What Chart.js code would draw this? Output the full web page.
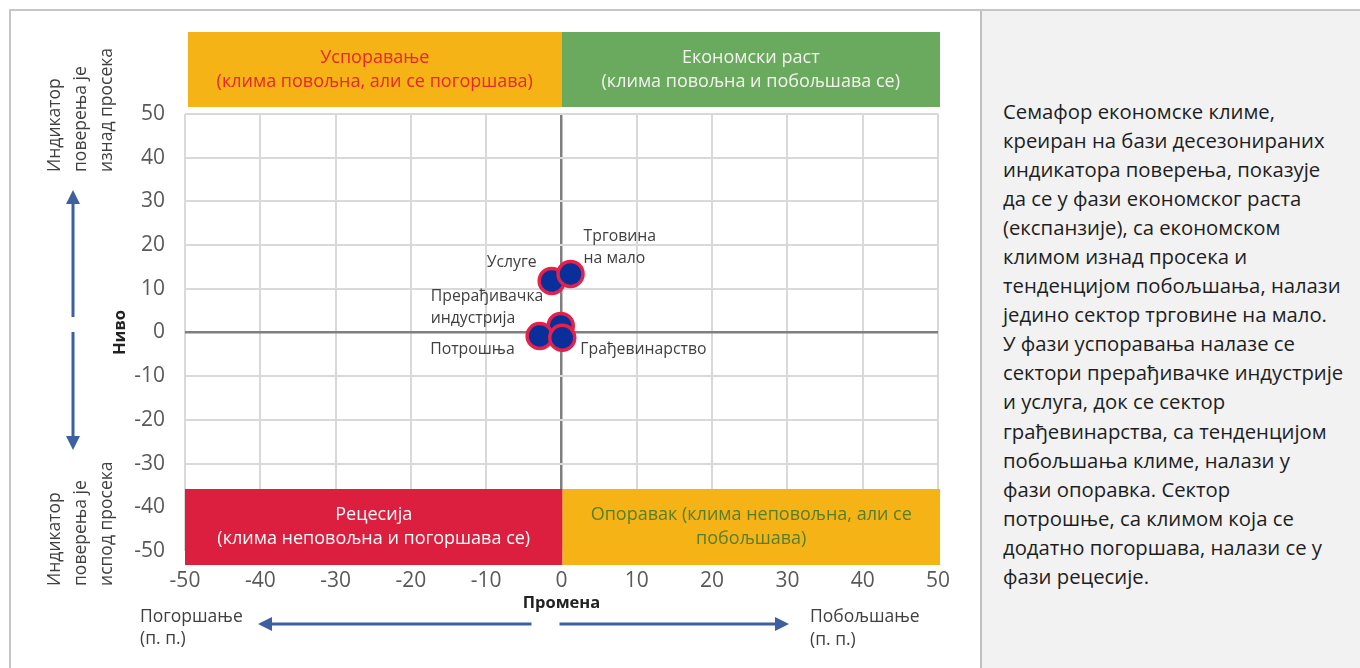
<!DOCTYPE html>
<html>
<head>
<meta charset="utf-8">
<script src="https://cdn.jsdelivr.net/npm/chart.js@4/dist/chart.umd.min.js"></script>
<style>
  body { margin: 0; width: 1360px; height: 668px; overflow: hidden; background: #fff; font-family: 'Open Sans', sans-serif; }
  #frame { position: absolute; left: 9px; top: 9px; width: 1360px; height: 700px; border: 2px solid #c6c6c6; box-sizing: border-box; }
  #wrap { position: absolute; left: 0; top: 0; width: 980px; height: 668px; }
  #note { position: absolute; left: 980px; top: 11px; width: 380px; height: 657px; background: #f2f2f2; border-left: 2px solid #c0c0c0; box-sizing: border-box; }
  #note p { position: absolute; left: 21px; top: 86px; margin: 0; font-size: 20.3px; line-height: 29.05px; color: #1e1e1e; white-space: nowrap; }
</style>
</head>
<body>
<div id="frame"></div>
<div id="note"><p>Семафор економске климе,<br>креиран на бази десезонираних<br>индикатора поверења, показује<br>да се у фази економског раста<br>(експанзије), са економском<br>климом изнад просека и<br>тенденцијом побољшања, налази<br>једино сектор трговине на мало.<br>У фази успоравања налазе се<br>сектори прерађивачке индустрије<br>и услуга, док се сектор<br>грађевинарства, са тенденцијом<br>побољшања климе, налази у<br>фази опоравка. Сектор<br>потрошње, са климом која се<br>додатно погоршава, налази се у<br>фази рецесије.</p></div>
<div id="wrap"><canvas id="chart" width="980" height="668"></canvas></div>
<script>
// sectors: change (x, п. п.) and level (y)
const sectors = ['Прерађивачка\nиндустрија', 'Потрошња', 'Услуге', 'Трговина\nна мало', 'Грађевинарство'];
const change = [-0.1, -2.9, -1.3, 1.2, 0.1];
const level = [1.5, -0.8, 11.8, 13.4, -1.2];

const axisMin = -50;
const axisMax = 50;
const axisStep = 10;

// label placement next to each point: [dx, dy, align]
const labelPlace = [
  [-130, -29, 'left'],
  [-25, 13, 'right'],
  [-15, -18, 'right'],
  [13, -37, 'left'],
  [18, 12, 'left']
];

const FONT = "'Open Sans', sans-serif";
const ARROW = '#3d61a0';

function arrow(ctx, x1, y1, x2, y2) {
  const a = Math.atan2(y2 - y1, x2 - x1);
  const hl = 14, hw = 7;
  const bx = x2 - hl * Math.cos(a), by = y2 - hl * Math.sin(a);
  ctx.save();
  ctx.strokeStyle = ARROW;
  ctx.fillStyle = ARROW;
  ctx.lineWidth = 3;
  ctx.beginPath();
  ctx.moveTo(x1, y1);
  ctx.lineTo(bx, by);
  ctx.stroke();
  ctx.beginPath();
  ctx.moveTo(x2, y2);
  ctx.lineTo(bx + hw * Math.sin(a), by - hw * Math.cos(a));
  ctx.lineTo(bx - hw * Math.sin(a), by + hw * Math.cos(a));
  ctx.closePath();
  ctx.fill();
  ctx.restore();
}

function box(ctx, x1, y1, x2, y2, bg, fg, lines) {
  ctx.fillStyle = bg;
  ctx.fillRect(x1, y1, x2 - x1, y2 - y1);
  ctx.fillStyle = fg;
  ctx.font = '18px ' + FONT;
  ctx.textAlign = 'center';
  ctx.textBaseline = 'middle';
  const cx = (x1 + x2) / 2, cy = (y1 + y2) / 2;
  lines.forEach((t, i) => ctx.fillText(t, cx, cy + (i - (lines.length - 1) / 2) * 24));
}

const phases = {
  id: 'phases',
  beforeDatasetsDraw(chart) {
    const { ctx, chartArea: a, scales: { x } } = chart;
    const mid = x.getPixelForValue(0);
    ctx.save();
    box(ctx, a.left + 3, a.top - 82, mid, a.top - 7, '#f5b316', '#e8262c', ['Успоравање', '(клима повољна, али се погоршава)']);
    box(ctx, mid, a.top - 82, a.right + 2, a.top - 7, '#6aaa5e', '#f3f3ee', ['Економски раст', '(клима повољна и побољшава се)']);
    box(ctx, a.left, a.bottom - 62, mid + 1, a.bottom + 14, '#dc1f3e', '#ffffff', ['Рецесија', '(клима неповољна и погоршава се)']);
    box(ctx, mid + 1, a.bottom - 62, a.right + 2, a.bottom + 14, '#f5b316', '#557f2d', ['Опоравак (клима неповољна, али се', 'побољшава)']);
    ctx.restore();
  },
  afterDatasetsDraw(chart) {
    const { ctx } = chart;
    const meta = chart.getDatasetMeta(0);
    ctx.save();
    ctx.font = '15.8px ' + FONT;
    ctx.fillStyle = '#404040';
    ctx.textBaseline = 'middle';
    meta.data.forEach((pt, i) => {
      const [dx, dy, al] = labelPlace[i];
      ctx.textAlign = al;
      sectors[i].split('\n').forEach((t, j) => ctx.fillText(t, pt.x + dx, pt.y + dy + j * 22));
    });
    ctx.restore();
  },
  afterDraw(chart) {
    const { ctx, scales: { x } } = chart;
    const mid = x.getPixelForValue(0);
    ctx.save();
    // side captions, rotated
    ctx.font = '17.5px ' + FONT;
    ctx.fillStyle = '#404040';
    ctx.textAlign = 'left';
    ctx.textBaseline = 'middle';
    const cols = [55, 81, 107];
    const top = ['Индикатор', 'поверења је', 'изнад просека'];
    const bot = ['Индикатор', 'поверења је', 'испод просека'];
    [[top, 172], [bot, 586]].forEach(([lines, y0]) => {
      lines.forEach((t, i) => {
        ctx.save();
        ctx.translate(cols[i], y0);
        ctx.rotate(-Math.PI / 2);
        ctx.fillText(t, 0, 0);
        ctx.restore();
      });
    });
    // direction arrows
    arrow(ctx, 73, 317, 73, 190);
    arrow(ctx, 73, 332, 73, 450);
    arrow(ctx, mid - 30, 624, 258, 624);
    arrow(ctx, mid - 2, 624, 789, 624);
    ctx.font = '17.5px ' + FONT;
    ctx.fillStyle = '#404040';
    ctx.textAlign = 'left';
    ctx.fillText('Погоршање', 140, 617);
    ctx.fillText('(п. п.)', 140, 639);
    ctx.fillText('Побољшање', 810, 617);
    ctx.fillText('(п. п.)', 810, 640);
    ctx.restore();
  }
};

const gridColor = c => c.tick && c.tick.value === 0 ? '#7f7f7f' : '#d9d9d9';
const gridWidth = c => c.tick && c.tick.value === 0 ? 2.5 : 2;

new Chart(document.getElementById('chart'), {
  type: 'scatter',
  data: {
    datasets: [{
      data: change.map((v, i) => ({ x: v, y: level[i] })),
      backgroundColor: '#0b2f9a',
      borderColor: '#e2224a',
      borderWidth: 3.5,
      pointRadius: 12.5,
      pointHoverRadius: 12.5
    }]
  },
  options: {
    responsive: false,
    animation: false,
    layout: { padding: { left: 110, top: 114, right: 42, bottom: 52 } },
    plugins: { legend: { display: false }, tooltip: { enabled: false } },
    scales: {
      x: {
        min: axisMin, max: axisMax,
        afterFit: s => { s.height = 65; },
        ticks: { stepSize: axisStep, padding: 17, color: '#595959', font: { family: FONT, size: 21 } },
        grid: { color: gridColor, lineWidth: gridWidth, drawTicks: false },
        border: { display: false },
        title: { display: true, text: 'Промена', color: '#222', padding: { top: 0, bottom: 3 }, font: { family: FONT, size: 16.5, weight: 'bold' } }
      },
      y: {
        min: axisMin, max: axisMax,
        afterFit: s => { s.width = 75; },
        ticks: { stepSize: axisStep, padding: 20, color: '#595959', font: { family: FONT, size: 21 } },
        grid: { color: gridColor, lineWidth: gridWidth, drawTicks: false },
        border: { display: false },
        title: { display: true, text: 'Ниво', color: '#222', padding: { top: 0, bottom: 0 }, font: { family: FONT, size: 16.5, weight: 'bold' } }
      }
    }
  },
  plugins: [phases]
});
</script>
</body>
</html>
